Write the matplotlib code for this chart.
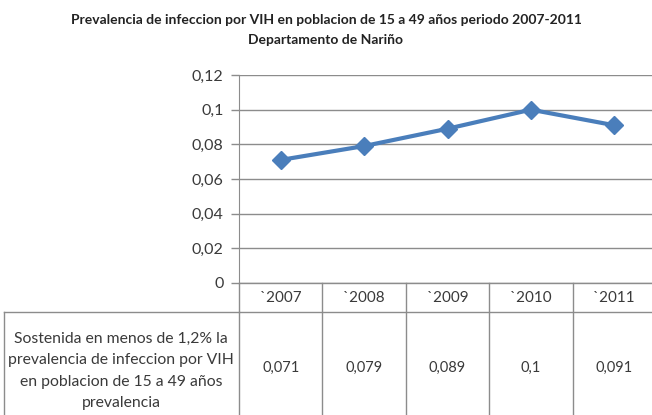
import matplotlib
matplotlib.use("Agg")
import matplotlib.pyplot as plt
from matplotlib.lines import Line2D

# datos
anios = ["`2007", "`2008", "`2009", "`2010", "`2011"]
prevalencia = [0.071, 0.079, 0.089, 0.1, 0.091]
valores_txt = ["0,071", "0,079", "0,089", "0,1", "0,091"]
yticks = [0, 0.02, 0.04, 0.06, 0.08, 0.1, 0.12]
ytick_txt = ["0", "0,02", "0,04", "0,06", "0,08", "0,1", "0,12"]
titulo = "Prevalencia de infeccion por VIH en poblacion de 15 a 49 años periodo 2007-2011\nDepartamento de Nariño"
etiqueta = "Sostenida en menos de 1,2% la\nprevalencia de infeccion por VIH\nen poblacion de 15 a 49 años\nprevalencia"

plt.rcParams['font.family'] = ['Lato', 'DejaVu Sans']
W, H = 652, 415
gris = "#8c8c8c"
texto = "#3a3a3a"
azul = "#4a7ebb"

fig = plt.figure(figsize=(W / 100, H / 100), dpi=100)
ax = fig.add_axes([239 / W, 1 - 283 / H, 417 / W, 208 / H])

x = list(range(len(anios)))
ax.plot(x, prevalencia, color=azul, lw=3, marker="D", ms=9, zorder=3)

ax.set_xlim(-0.5, 4.5)
ax.set_ylim(0, 0.12)
ax.set_yticks(yticks)
ax.set_yticklabels(ytick_txt, fontsize=11.5, color=texto)
ax.set_xticks([])
ax.tick_params(axis="y", length=6, width=1, color=gris, pad=5)
ax.grid(axis="y", color=gris, lw=1)
for s in ["top", "right", "bottom"]:
    ax.spines[s].set_visible(False)
ax.spines["left"].set_color(gris)

# tabla de datos
tr = ax.get_xaxis_transform()
y_cab = -29 / 208
for i in range(len(anios) + 1):
    ax.add_line(Line2D([i - 0.5, i - 0.5], [0, -1], transform=tr, color=gris, lw=1, clip_on=False))
ax.add_line(Line2D([-0.5, 5], [0, 0], transform=tr, color=gris, lw=1, clip_on=False))
ax.add_line(Line2D([-0.5, 5], [y_cab, y_cab], transform=tr, color=gris, lw=1, clip_on=False))
for i, (a, v) in enumerate(zip(anios, valores_txt)):
    ax.text(i, -15 / 208, a, transform=tr, ha="center", va="center", fontsize=11, color=texto)
    ax.text(i, -85 / 208, v, transform=tr, ha="center", va="center", fontsize=10.5, color=texto)

fig.add_artist(Line2D([4 / W, 239 / W], [1 - 312 / H, 1 - 312 / H], color=gris, lw=1))
fig.add_artist(Line2D([4 / W, 4 / W], [1 - 312 / H, 0], color=gris, lw=1))
fig.text(121 / W, 1 - 371 / H, etiqueta, ha="center", va="center", fontsize=11.3,
         color=texto, linespacing=1.68)

fig.text(0.5, 1 - 30 / H, titulo, ha="center", va="center", fontsize=10,
         fontweight="bold", color="#222222", linespacing=1.75)

fig.savefig("out.png", dpi=100)
